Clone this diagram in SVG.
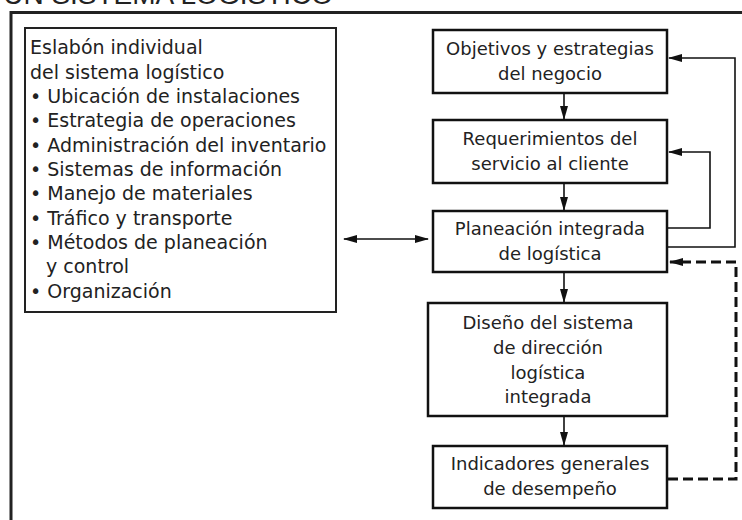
<svg xmlns="http://www.w3.org/2000/svg" width="742" height="520" viewBox="0 0 742 520">
<style>
  .box { fill: #ffffff; stroke: #111; stroke-width: 2.5; }
  .lbox { fill: #ffffff; stroke: #222; stroke-width: 2; }
  .t { font-family: "DejaVu Sans", "Liberation Sans", sans-serif; font-size: 18px; fill: #222; }
  .l { font-size: 19px; }
  .c { text-anchor: middle; }
  .ln { fill: none; stroke: #111; stroke-width: 1.6; }
  .dash { fill: none; stroke: #111; stroke-width: 3; stroke-dasharray: 10 5; }
</style>
<defs>
  <marker id="ah" viewBox="0 0 14 8" refX="13" refY="4" markerWidth="14" markerHeight="8" markerUnits="userSpaceOnUse" orient="auto-start-reverse">
    <path d="M0,0 L14,4 L0,8 Z" fill="#111"/>
  </marker>
</defs>
<rect width="742" height="520" fill="#ffffff"/>
<text x="333" y="4" text-anchor="end" font-family="Liberation Sans, Arial, sans-serif" font-size="28" fill="#222">DE UN SISTEMA LOGÍSTICO</text>
<path d="M11,520 V12.5 H742" fill="none" stroke="#222" stroke-width="3"/>

<g id="eslabon">
  <rect class="lbox" x="25" y="28" width="311" height="284"/>
  <text class="t l" x="30" y="54">Eslabón individual</text>
  <text class="t l" x="30" y="78.5">del sistema logístico</text>
  <text class="t l" x="30" y="103">• Ubicación de instalaciones</text>
  <text class="t l" x="30" y="127">• Estrategia de operaciones</text>
  <text class="t l" x="30" y="151.5">• Administración del inventario</text>
  <text class="t l" x="30" y="176">• Sistemas de información</text>
  <text class="t l" x="30" y="200">• Manejo de materiales</text>
  <text class="t l" x="30" y="224.5">• Tráfico y transporte</text>
  <text class="t l" x="30" y="249">• Métodos de planeación</text>
  <text class="t l" x="46" y="273">y control</text>
  <text class="t l" x="30" y="298">• Organización</text>
</g>

<g id="objetivos">
  <rect class="box" x="433" y="30" width="234" height="63"/>
  <text class="t c" x="550" y="55">Objetivos y estrategias</text>
  <text class="t c" x="550" y="80">del negocio</text>
</g>

<g id="requerimientos">
  <rect class="box" x="433" y="120" width="234" height="63"/>
  <text class="t c" x="550" y="145">Requerimientos del</text>
  <text class="t c" x="550" y="170">servicio al cliente</text>
</g>

<g id="planeacion">
  <rect class="box" x="433" y="211" width="234" height="61"/>
  <text class="t c" x="550" y="235">Planeación integrada</text>
  <text class="t c" x="550" y="260">de logística</text>
</g>

<g id="diseno">
  <rect class="box" x="428" y="303" width="239" height="113"/>
  <text class="t c" x="548" y="329">Diseño del sistema</text>
  <text class="t c" x="548" y="354">de dirección</text>
  <text class="t c" x="548" y="379">logística</text>
  <text class="t c" x="548" y="403">integrada</text>
</g>

<g id="indicadores">
  <rect class="box" x="433" y="446" width="234" height="62"/>
  <text class="t c" x="550" y="470">Indicadores generales</text>
  <text class="t c" x="550" y="495">de desempeño</text>
</g>

<g id="connectors">
  <line class="ln" x1="564" y1="94" x2="564" y2="119" marker-end="url(#ah)"/>
  <line class="ln" x1="564" y1="184" x2="564" y2="210" marker-end="url(#ah)"/>
  <line class="ln" x1="564" y1="273" x2="564" y2="302" marker-end="url(#ah)"/>
  <line class="ln" x1="564" y1="417" x2="564" y2="445" marker-end="url(#ah)"/>
  <line class="ln" x1="344" y1="239" x2="428" y2="239" marker-start="url(#ah)" marker-end="url(#ah)"/>
  <path class="ln" d="M668,228 H710 V152 H669" marker-end="url(#ah)"/>
  <path class="ln" d="M668,247 H735 V58 H669" marker-end="url(#ah)"/>
  <path class="dash" d="M668,479 H736 V262 H670" marker-end="url(#ah)"/>
</g>
</svg>
